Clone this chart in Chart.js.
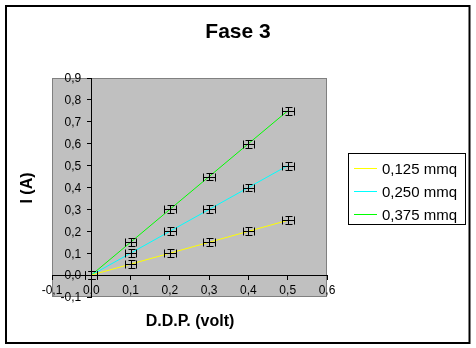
<!DOCTYPE html>
<html>
<head>
<meta charset="utf-8">
<script src="https://cdn.jsdelivr.net/npm/chart.js@4/dist/chart.umd.min.js"></script>
<style>
  html, body { margin: 0; padding: 0; background: #fff; }
  #wrap { width: 476px; height: 348px; }
</style>
</head>
<body>
<div id="wrap"><canvas id="chartFase" width="476" height="348"></canvas></div>
<script>
// tensione applicata (volt) e corrente misurata (A) per sezione
var ddp = [0, 0.1, 0.2, 0.3, 0.4, 0.5];
var i125 = [0, 0.05, 0.10, 0.15, 0.20, 0.25];
var i250 = [0, 0.10, 0.20, 0.30, 0.40, 0.50];
var i375 = [0, 0.15, 0.30, 0.45, 0.60, 0.75];
var seriesLabels = ['0,125 mmq', '0,250 mmq', '0,375 mmq'];
var seriesColors = ['#ffff00', '#00ffff', '#00ff00'];
var xTickVals = [-0.1, 0, 0.1, 0.2, 0.3, 0.4, 0.5, 0.6];
var yTickVals = [-0.1, 0, 0.1, 0.2, 0.3, 0.4, 0.5, 0.6, 0.7, 0.8, 0.9];
var errX = 0.015, errY = 0.018;

var FONT = 'Liberation Sans, Arial, sans-serif';

function pts(ys) {
  return ddp.map(function(x, i) { return { x: x, y: ys[i] }; });
}

function fmt(v) {
  return (Math.round(v * 10) / 10).toFixed(1).replace('.', ',');
}

var sheet = {
  id: 'sheet',
  beforeDraw: function(chart) {
    var c = chart.ctx, a = chart.chartArea;
    c.save();
    c.fillStyle = '#fff';
    c.fillRect(0, 0, chart.width, chart.height);
    c.strokeStyle = '#000';
    c.lineWidth = 2;
    c.strokeRect(6, 6, 463.5, 337);
    c.fillStyle = '#c0c0c0';
    c.fillRect(a.left, a.top, a.right - a.left, a.bottom - a.top);
    c.strokeStyle = '#808080';
    c.lineWidth = 1;
    c.strokeRect(Math.round(a.left) + 0.5, Math.round(a.top) + 0.5,
      Math.round(a.right - a.left) - 1, Math.round(a.bottom - a.top) - 1);
    c.restore();
  },
  beforeDatasetsDraw: function(chart) {
    // etichette dell'asse y, a sinistra dell'asse che passa per x = 0
    var c = chart.ctx, sx = chart.scales.x, sy = chart.scales.y;
    var x0 = sx.getPixelForValue(0);
    c.save();
    c.fillStyle = '#000';
    c.font = '12px ' + FONT;
    c.textAlign = 'right';
    c.textBaseline = 'middle';
    sy.ticks.forEach(function(t) {
      c.fillText(fmt(t.value), x0 - 10, sy.getPixelForValue(t.value) + 1);
    });
    c.restore();
  },
  afterDatasetsDraw: function(chart) {
    var c = chart.ctx, sx = chart.scales.x, sy = chart.scales.y;
    c.save();
    c.strokeStyle = '#000';
    c.lineWidth = 1;
    chart.data.datasets.forEach(function(ds) {
      ds.data.forEach(function(p) {
        var px = Math.round(sx.getPixelForValue(p.x)) + 0.5;
        var py = Math.round(sy.getPixelForValue(p.y)) + 0.5;
        var xl = Math.round(sx.getPixelForValue(p.x - errX)) + 0.5;
        var xr = Math.round(sx.getPixelForValue(p.x + errX)) + 0.5;
        var yt = Math.round(sy.getPixelForValue(p.y + errY)) + 0.5;
        var yb = Math.round(sy.getPixelForValue(p.y - errY)) + 0.5;
        c.beginPath();
        // barra orizzontale con terminali
        c.moveTo(xl, py); c.lineTo(xr, py);
        c.moveTo(xl, py - 4); c.lineTo(xl, py + 4);
        c.moveTo(xr, py - 4); c.lineTo(xr, py + 4);
        // barra verticale con terminali
        c.moveTo(px, yt); c.lineTo(px, yb);
        c.moveTo(px - 3, yt); c.lineTo(px + 4, yt);
        c.moveTo(px - 3, yb); c.lineTo(px + 4, yb);
        c.stroke();
      });
    });
    c.restore();
  },
  afterDraw: function(chart) {
    var c = chart.ctx;
    c.save();
    c.fillStyle = '#000';
    c.textAlign = 'center';
    c.textBaseline = 'alphabetic';
    c.font = 'bold 21px ' + FONT;
    c.fillText('Fase 3', 238, 38);
    c.font = 'bold 16px ' + FONT;
    c.fillText('D.D.P. (volt)', 190, 326);
    c.save();
    c.translate(32, 188);
    c.rotate(-Math.PI / 2);
    c.fillText('I (A)', 0, 0);
    c.restore();

    // legenda
    c.strokeStyle = '#000';
    c.lineWidth = 1;
    c.strokeRect(348.5, 153.5, 117, 71);
    c.font = '15px ' + FONT;
    c.textAlign = 'left';
    c.textBaseline = 'middle';
    chart.data.datasets.forEach(function(ds, i) {
      var y = 168.5 + i * 23;
      c.strokeStyle = ds.borderColor;
      c.beginPath();
      c.moveTo(354, y); c.lineTo(377, y);
      c.stroke();
      c.fillStyle = '#000';
      c.fillText(ds.label, 382, y + 1);
    });
    c.restore();
  }
};

var tickFont = { family: FONT, size: 12 };

new Chart(document.getElementById('chartFase'), {
  type: 'scatter',
  data: {
    datasets: [
      { label: seriesLabels[0], data: pts(i125), borderColor: seriesColors[0] },
      { label: seriesLabels[1], data: pts(i250), borderColor: seriesColors[1] },
      { label: seriesLabels[2], data: pts(i375), borderColor: seriesColors[2] }
    ].map(function(ds) {
      return Object.assign(ds, { showLine: true, borderWidth: 1, pointRadius: 0, tension: 0, backgroundColor: ds.borderColor });
    })
  },
  options: {
    responsive: false,
    animation: false,
    layout: { padding: { left: 52, top: 78, right: 149, bottom: 51 } },
    plugins: { legend: { display: false }, title: { display: false }, tooltip: { enabled: false } },
    scales: {
      x: {
        type: 'linear', min: -0.1, max: 0.6,
        position: { y: 0 },
        afterBuildTicks: function(s) { s.ticks = xTickVals.map(function(v) { return { value: v }; }); },
        grid: { drawOnChartArea: false, color: '#000', tickLength: 4 },
        border: { color: '#000', width: 1 },
        ticks: { color: '#000', font: tickFont, padding: 4, maxRotation: 0, autoSkip: false, callback: fmt }
      },
      y: {
        type: 'linear', min: -0.1, max: 0.9,
        position: { x: 0 },
        afterBuildTicks: function(s) { s.ticks = yTickVals.map(function(v) { return { value: v }; }); },
        grid: { drawOnChartArea: false, color: '#000', tickLength: 4 },
        border: { color: '#000', width: 1 },
        ticks: { display: false, autoSkip: false, callback: fmt }
      }
    }
  },
  plugins: [sheet]
});
</script>
</body>
</html>
